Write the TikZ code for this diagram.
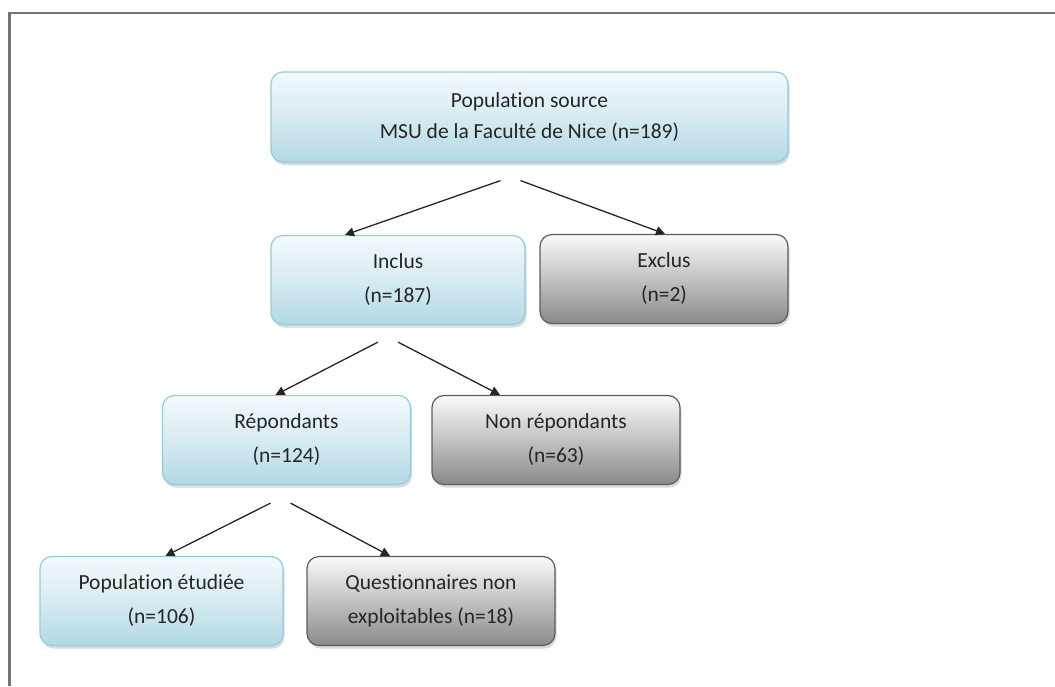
\documentclass[tikz,border=0pt]{standalone}
\usepackage{fontspec}
\setmainfont[Ligatures=NoCommon]{Carlito}
\usepackage{tikz}
\usetikzlibrary{arrows.meta,shadows,positioning}
\definecolor{blueTop}{HTML}{F4FAFC}
\definecolor{blueBot}{HTML}{B3D9E5}
\definecolor{blueLine}{HTML}{98CADB}
\definecolor{grayTop}{HTML}{FAFAFA}
\definecolor{grayBot}{HTML}{8A8A8A}
\definecolor{grayLine}{HTML}{5C5C5C}
\definecolor{txt}{HTML}{262626}

\begin{document}
\begin{tikzpicture}[x=1pt,y=-1pt,
	boxblue/.style={rounded corners=12pt, draw=blueLine, line width=1.2pt, top color=blueTop, bottom color=blueBot, middle color=blueTop!55!blueBot, drop shadow={shadow xshift=1.5pt, shadow yshift=-3pt, opacity=0.3}, minimum width=248pt, minimum height=89pt, align=center, text=txt, font=\fontsize{21.5}{34}\selectfont},
	boxgray/.style={boxblue, draw=grayLine, top color=grayTop, bottom color=grayBot, middle color=grayTop!50!grayBot},
	flow/.style={-{Triangle[length=9pt,width=9pt]}, line width=1.3pt, black!85}]
	\useasboundingbox (0,0) rectangle (1055,686);
	% Frame
	\draw[black!55, line width=2.2pt] (9.5,686) -- (9.5,13) -- (1055,13);
	% Boxes
	\node[boxblue, minimum width=517pt, minimum height=90pt, font=\fontsize{21.5}{31}\selectfont] at (529.5,117) (src) {Population source\\MSU de la Facult\'e de Nice (n=189)};
	\node[boxblue, minimum width=254pt] at (398,280) (incl) {Inclus\\(n=187)};
	\node[boxgray] at (664,279) (excl) {Exclus\\(n=2)};
	\node[boxblue] at (286.5,440) (rep) {R\'epondants\\(n=124)};
	\node[boxgray] at (556,440) (nonrep) {Non r\'epondants\\(n=63)};
	\node[boxblue, minimum width=243pt] at (161.5,601) (etud) {Population \'etudi\'ee\\(n=106)};
	\node[boxgray] at (431,601) (quest) {Questionnaires non\\exploitables (n=18)};
	% Arrows
	\draw[flow] ([xshift=-29pt, yshift=-18pt]src.south) -- ([xshift=-53pt]incl.north);
	\draw[flow] ([xshift=-9pt, yshift=-18pt]src.south) -- ([xshift=1pt]excl.north);
	\draw[flow] ([xshift=-20pt, yshift=-17pt]incl.south) -- ([xshift=-11pt]rep.north);
	\draw[flow] ([xshift=0pt, yshift=-17pt]incl.south) -- ([xshift=-56pt]nonrep.north);
	\draw[flow] ([xshift=-16pt, yshift=-18pt]rep.south) -- ([xshift=4pt]etud.north);
	\draw[flow] ([xshift=4pt, yshift=-18pt]rep.south) -- ([xshift=-41pt]quest.north);
\end{tikzpicture}
\end{document}
